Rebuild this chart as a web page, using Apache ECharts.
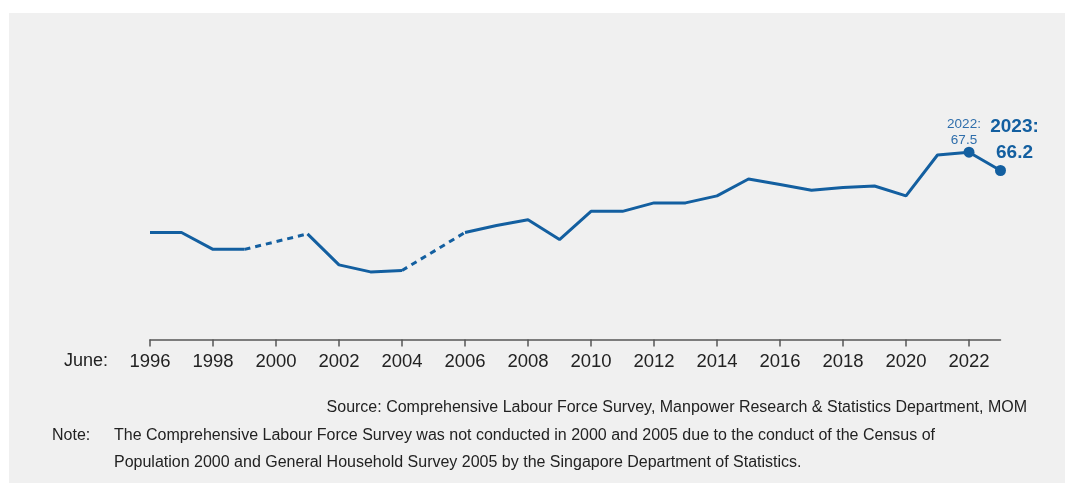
<!DOCTYPE html>
<html>
<head>
<meta charset="utf-8">
<script src="https://cdn.jsdelivr.net/npm/echarts@6/dist/echarts.min.js"></script>
<style>
html,body{margin:0;padding:0;background:#ffffff;}
#main{width:1065px;height:483px;}
</style>
</head>
<body>
<div id="main"></div>
<script>
// Data
var years = [1996,1997,1998,1999,2000,2001,2002,2003,2004,2005,2006,2007,2008,2009,2010,2011,2012,2013,2014,2015,2016,2017,2018,2019,2020,2021,2022,2023];
var values = [61.8,61.8,60.6,60.6,null,61.7,59.5,59.0,59.1,null,61.8,62.3,62.7,61.3,63.3,63.3,63.9,63.9,64.4,65.6,65.2,64.8,65.0,65.1,64.4,67.3,67.5,66.2];
var tickYears = [1996,1998,2000,2002,2004,2006,2008,2010,2012,2014,2016,2018,2020,2022];
var highlightYears = [2022, 2023];

var BLUE = '#135fa0';
var FONT = 'Liberation Sans, Arial';

var solidData = years.map(function(y,i){ return [y, values[i] === null ? '-' : values[i]]; });

var series = [{
  type:'line', data: solidData, connectNulls:false, symbol:'none',
  lineStyle:{color:BLUE, width:3}, silent:true, z:3
}];
// dashed bridges over missing years
years.forEach(function(y,i){
  if (values[i] === null) {
    series.push({
      type:'line', symbol:'none', silent:true, z:2,
      data:[[years[i-1], values[i-1]],[years[i+1], values[i+1]]],
      lineStyle:{color:BLUE, width:3, type:[6,5]}
    });
  }
});
// highlighted points
var hl = highlightYears.map(function(y){ var i = years.indexOf(y); return [y, values[i]]; });
function fmt(p){ return p.value[0] + ':\n' + p.value[1].toFixed(1); }
series.push({
  type:'scatter', symbolSize:11, silent:true, z:5,
  itemStyle:{color:BLUE, opacity:1},
  data:[
    {value:hl[0], label:{show:true, position:'top', distance:-1.5, offset:[-5,0], formatter:fmt, color:'#2f6eab', fontSize:13.5, lineHeight:16, fontFamily:FONT}},
    {value:hl[1], label:{show:true, position:'top', distance:-1, offset:[14,0], formatter:fmt, color:'#135fa0', fontSize:19, fontWeight:'bold', lineHeight:26, fontFamily:FONT}}
  ]
});

var chart = echarts.init(document.getElementById('main'), null, {renderer:'canvas'});
chart.setOption({
  animation:false,
  backgroundColor:'#ffffff',
  graphic:[
    {type:'rect', left:9, top:13, shape:{width:1056, height:470}, style:{fill:'#f0f0f0'}, z:-10, silent:true},
    {type:'text', left:64, top:352, style:{text:'June:', fontSize:18, fontFamily:FONT, fill:'#222222'}},
    {type:'text', right:38, top:400, style:{text:'Source: Comprehensive Labour Force Survey, Manpower Research & Statistics Department, MOM', fontSize:16, fontFamily:FONT, fill:'#222222', align:'right'}},
    {type:'text', left:52, top:428, style:{text:'Note:', fontSize:16, fontFamily:FONT, fill:'#222222'}},
    {type:'text', left:114, top:428, style:{text:'The Comprehensive Labour Force Survey was not conducted in 2000 and 2005 due to the conduct of the Census of', fontSize:16, fontFamily:FONT, fill:'#222222'}},
    {type:'text', left:114, top:455, style:{text:'Population 2000 and General Household Survey 2005 by the Singapore Department of Statistics.', fontSize:16, fontFamily:FONT, fill:'#222222'}}
  ],
  grid:{left:150, right:64.5, top:117, bottom:143.5, containLabel:false},
  xAxis:{
    type:'value', min:1996, max:2023, interval:2,
    splitLine:{show:false},
    axisLine:{show:true, lineStyle:{color:'#555555', width:1.5}},
    axisTick:{show:true, length:7, lineStyle:{color:'#555555', width:1.5}, customValues:tickYears},
    axisLabel:{show:true, customValues:tickYears, margin:13, fontSize:18.5, color:'#222222', fontFamily:FONT, formatter:function(v){return String(v);}}
  },
  yAxis:{
    type:'value', min:54.2, max:70, show:false, splitLine:{show:false}
  },
  series: series
});
</script>
</body>
</html>
